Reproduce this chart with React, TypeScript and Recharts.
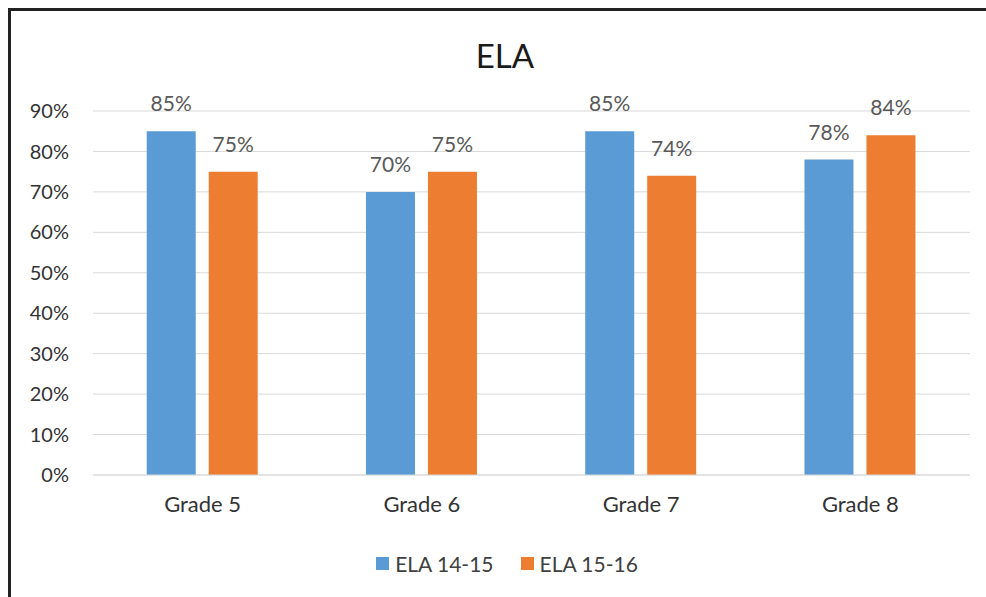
import React from "react";
import { Bar, BarChart, CartesianGrid, LabelList, Legend, XAxis, YAxis } from "recharts";

const grades = ["Grade 5", "Grade 6", "Grade 7", "Grade 8"];
const ela1415 = [0.85, 0.7, 0.85, 0.78];
const ela1516 = [0.75, 0.75, 0.74, 0.84];
const yTicks = [0, 0.1, 0.2, 0.3, 0.4, 0.5, 0.6, 0.7, 0.8, 0.9];

const data = grades.map((grade, i) => ({
  grade,
  a: ela1415[i],
  b: ela1516[i],
}));

const FONT = "Lato, 'Noto Sans', sans-serif";
const pct = (v: number) => `${Math.round(v * 100)}%`;

function LegendContent({ payload }: any) {
  return (
    <div style={{ display: "flex", justifyContent: "center", alignItems: "center", height: 30, fontFamily: FONT, fontSize: 21, color: "#404040" }}>
      {(payload ?? []).map((p: any, i: number) => (
        <div key={p.value} style={{ display: "flex", alignItems: "center", marginLeft: i ? 27 : 0 }}>
          <span style={{ width: 13, height: 13, background: p.color, marginRight: 6, display: "inline-block" }} />
          <span>{p.value}</span>
        </div>
      ))}
    </div>
  );
}

export default function App() {
  return (
    <div
      style={{
        position: "fixed",
        left: 8,
        top: 8,
        width: 978,
        height: 589,
        overflow: "hidden",
        borderLeft: "3px solid #222",
        borderTop: "3px solid #222",
        background: "#fff",
      }}
    >
      <div style={{ position: "absolute", left: 0, width: 988, top: 24, textAlign: "center", fontFamily: FONT, fontSize: 33, color: "#1a1a1a", lineHeight: "40px" }}>
        ELA
      </div>
      <BarChart
        width={975}
        height={586}
        data={data}
        margin={{ top: 100, right: 16, bottom: 19, left: 0 }}
        barCategoryGap="24.5%"
        barGap={13}
      >
        <CartesianGrid stroke="#d9d9d9" vertical={false} />
        <XAxis
          dataKey="grade"
          height={73}
          tickLine={false}
          tickSize={0}
          tickMargin={21}
          axisLine={{ stroke: "#d9d9d9" }}
          tick={{ fill: "#333", fontSize: 22, fontFamily: FONT }}
        />
        <YAxis
          width={82}
          domain={[0, 0.9]}
          ticks={yTicks}
          tickFormatter={pct}
          axisLine={false}
          tickLine={false}
          tickSize={0}
          tickMargin={24}
          tick={{ fill: "#333", fontSize: 20, fontFamily: FONT }}
        />
        <Legend
          verticalAlign="bottom"
          content={<LegendContent />}
          wrapperStyle={{ left: 0, width: 992, height: 30 }}
        />
        <Bar dataKey="a" name="ELA 14-15" fill="#5b9bd5" isAnimationActive={false}>
          <LabelList dataKey="a" position="top" offset={20} formatter={pct} fill="#595959" fontSize={21} fontFamily={FONT} />
        </Bar>
        <Bar dataKey="b" name="ELA 15-16" fill="#ed7d31" isAnimationActive={false}>
          <LabelList dataKey="b" position="top" offset={20} formatter={pct} fill="#595959" fontSize={21} fontFamily={FONT} />
        </Bar>
      </BarChart>
    </div>
  );
}
